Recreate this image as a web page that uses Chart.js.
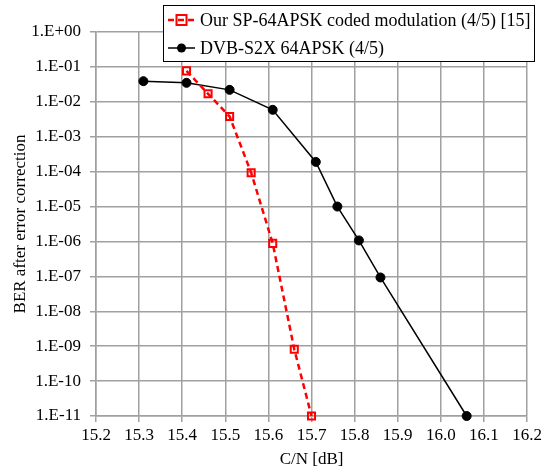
<!DOCTYPE html>
<html>
<head>
<meta charset="utf-8">
<script src="https://cdn.jsdelivr.net/npm/chart.js@4.4.1/dist/chart.umd.min.js"></script>
<style>
  html, body { margin: 0; padding: 0; background: #ffffff; }
  #wrap { position: relative; width: 550px; height: 470px; }
</style>
</head>
<body>
<div id="wrap"><canvas id="c" width="550" height="470"></canvas></div>
<script>
// ---- data ----
const ourLabel = 'Our SP-64APSK coded modulation (4/5) [15]';
const ourCN  = [15.41, 15.46, 15.51, 15.56, 15.61, 15.66, 15.70];
const ourBER = [7.7e-2, 1.7e-2, 3.8e-3, 9.3e-5, 8.8e-7, 8.2e-10, 1.0e-11];

const dvbLabel = 'DVB-S2X 64APSK (4/5)';
const dvbCN  = [15.31, 15.41, 15.51, 15.61, 15.71, 15.76, 15.81, 15.86, 16.06];
const dvbBER = [3.9e-2, 3.5e-2, 2.2e-2, 5.9e-3, 1.9e-4, 1.0e-5, 1.07e-6, 9.3e-8, 1.0e-11];

const xTickValues = [15.2, 15.3, 15.4, 15.5, 15.6, 15.7, 15.8, 15.9, 16.0, 16.1, 16.2];
const xTickLabels = ['15.2','15.3','15.4','15.5','15.6','15.7','15.8','15.9','16.0','16.1','16.2'];
const yTickValues = [1e-11, 1e-10, 1e-9, 1e-8, 1e-7, 1e-6, 1e-5, 1e-4, 1e-3, 1e-2, 1e-1, 1e0];
const yTickLabels = ['1.E-11','1.E-10','1.E-09','1.E-08','1.E-07','1.E-06','1.E-05','1.E-04','1.E-03','1.E-02','1.E-01','1.E+00'];

const xTitle = 'C/N [dB]';
const yTitle = 'BER after error correction';

// ---- styles ----
const FONT = 'Liberation Serif';
const GRID = '#a0a0a0';

const toPts = (xs, ys) => xs.map((x, i) => ({ x: x, y: ys[i] }));

const legendPlugin = {
  id: 'boxLegend',
  afterDraw(chart) {
    const ctx = chart.ctx;
    const bx = 163, by = 5, bw = 372, bh = 57;
    ctx.save();
    ctx.fillStyle = '#ffffff';
    ctx.fillRect(bx, by, bw, bh);
    ctx.strokeStyle = '#000000';
    ctx.lineWidth = 1;
    ctx.strokeRect(bx + 0.5, by + 0.5, bw - 1, bh - 1);

    ctx.font = '18px "' + FONT + '"';
    ctx.textBaseline = 'middle';
    ctx.fillStyle = '#000000';

    const y1 = 20, y2 = 48;
    const lx0 = 168, lx1 = 195, lc = (lx0 + lx1) / 2;
    // row 1: red dashed with square
    ctx.strokeStyle = '#ff0000';
    ctx.lineWidth = 2.5;
    ctx.setLineDash([6, 4]);
    ctx.beginPath(); ctx.moveTo(lx0, y1); ctx.lineTo(lx1, y1); ctx.stroke();
    ctx.setLineDash([]);
    ctx.lineWidth = 2;
    ctx.strokeRect(lc - 5, y1 - 5, 10, 10);
    ctx.fillText(ourLabel, 200, y1 + 1);

    // row 2: black solid with circle
    ctx.strokeStyle = '#000000';
    ctx.lineWidth = 1.5;
    ctx.beginPath(); ctx.moveTo(lx0, y2); ctx.lineTo(lx1, y2); ctx.stroke();
    ctx.fillStyle = '#000000';
    ctx.beginPath(); ctx.arc(lc, y2, 4.5, 0, Math.PI * 2); ctx.fill();
    ctx.fillText(dvbLabel, 200, y2 + 1);
    ctx.restore();
  }
};

new Chart(document.getElementById('c'), {
  type: 'scatter',
  data: {
    datasets: [
      {
        label: dvbLabel,
        data: toPts(dvbCN, dvbBER),
        showLine: true,
        borderColor: '#000000',
        borderWidth: 1.5,
        pointStyle: 'circle',
        pointRadius: 4.5,
        pointBackgroundColor: '#000000',
        pointBorderColor: '#000000',
        pointBorderWidth: 1,
        clip: false,
        order: 2
      },
      {
        label: ourLabel,
        data: toPts(ourCN, ourBER),
        showLine: true,
        borderColor: '#ff0000',
        borderWidth: 2.5,
        borderDash: [6, 4],
        pointStyle: 'rect',
        pointRadius: 5,
        pointBackgroundColor: 'rgba(0,0,0,0)',
        pointBorderColor: '#ff0000',
        pointBorderWidth: 2,
        clip: false,
        order: 1
      }
    ]
  },
  options: {
    responsive: false,
    animation: false,
    devicePixelRatio: 1,
    layout: { padding: { left: 0, right: 23, top: 32, bottom: 0 } },
    plugins: {
      legend: { display: false },
      tooltip: { enabled: false }
    },
    scales: {
      x: {
        type: 'linear',
        min: 15.2,
        max: 16.2,
        afterBuildTicks: (s) => { s.ticks = xTickValues.map(v => ({ value: v })); },
        afterFit: (s) => { s.height = 54; },
        ticks: {
          color: '#000000',
          font: { family: FONT, size: 17 },
          padding: 3,
          maxRotation: 0,
          autoSkip: false,
          callback: (v, i) => xTickLabels[i]
        },
        grid: { color: GRID, lineWidth: 1.5, tickLength: 6, tickColor: GRID },
        border: { color: GRID, width: 1.5 },
        title: {
          display: true,
          text: xTitle,
          color: '#000000',
          font: { family: FONT, size: 17 },
          padding: { top: 0, bottom: 0 }
        }
      },
      y: {
        type: 'logarithmic',
        min: 1e-11,
        max: 1,
        afterBuildTicks: (s) => { s.ticks = yTickValues.map(v => ({ value: v })); },
        afterFit: (s) => { s.width = 96; },
        ticks: {
          color: '#000000',
          font: { family: FONT, size: 17 },
          padding: 9,
          autoSkip: false,
          callback: (v, i) => yTickLabels[i]
        },
        grid: { color: GRID, lineWidth: 1.5, tickLength: 6, tickColor: GRID },
        border: { color: GRID, width: 1.5 },
        title: {
          display: true,
          text: yTitle,
          color: '#000000',
          font: { family: FONT, size: 17 },
          padding: { top: 10, bottom: 0 }
        }
      }
    }
  },
  plugins: [legendPlugin]
});
</script>
</body>
</html>
